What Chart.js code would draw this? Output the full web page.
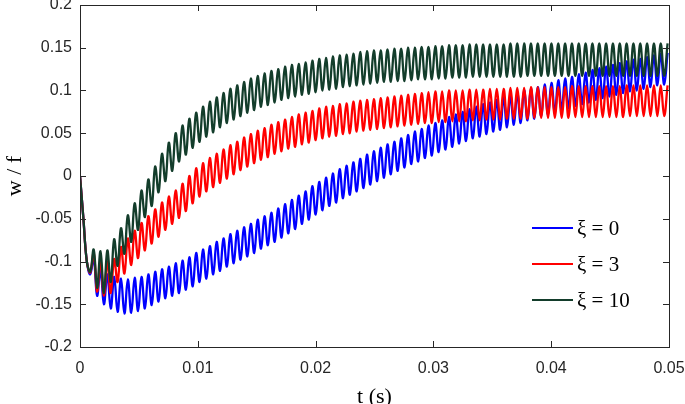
<!DOCTYPE html>
<html>
<head>
<meta charset="utf-8">
<script src="https://cdn.jsdelivr.net/npm/chart.js@4.4.1/dist/chart.umd.min.js"></script>
<style>
  html, body { margin: 0; padding: 0; background: #fff; }
  #wrap { width: 685px; height: 404px; }
</style>
</head>
<body>
<div id="wrap"><canvas id="respChart" width="685" height="404"></canvas></div>
<script>
// time samples (s), one per half period of the oscillation
var times = [
  0, 0.00029, 0.00058, 0.00087, 0.00116, 0.00145, 0.00174, 0.00203, 0.00232, 0.00261,
  0.0029, 0.00319, 0.00348, 0.00377, 0.00406, 0.00435, 0.00464, 0.00493, 0.00522, 0.00551,
  0.0058, 0.00609, 0.00638, 0.00667, 0.00696, 0.00725, 0.00754, 0.00783, 0.00812, 0.00841,
  0.0087, 0.00899, 0.00928, 0.00957, 0.00986, 0.01015, 0.01044, 0.01073, 0.01102, 0.01131,
  0.0116, 0.01189, 0.01218, 0.01247, 0.01276, 0.01305, 0.01334, 0.01363, 0.01392, 0.01421,
  0.0145, 0.01479, 0.01508, 0.01537, 0.01566, 0.01595, 0.01624, 0.01653, 0.01682, 0.01711,
  0.0174, 0.01769, 0.01798, 0.01827, 0.01856, 0.01885, 0.01914, 0.01943, 0.01972, 0.02001,
  0.0203, 0.02059, 0.02088, 0.02117, 0.02146, 0.02175, 0.02204, 0.02233, 0.02262, 0.02291,
  0.0232, 0.02349, 0.02378, 0.02407, 0.02436, 0.02465, 0.02494, 0.02523, 0.02552, 0.02581,
  0.0261, 0.02639, 0.02668, 0.02697, 0.02726, 0.02755, 0.02784, 0.02813, 0.02842, 0.02871,
  0.029, 0.02929, 0.02958, 0.02987, 0.03016, 0.03045, 0.03074, 0.03103, 0.03132, 0.03161,
  0.0319, 0.03219, 0.03248, 0.03277, 0.03306, 0.03335, 0.03364, 0.03393, 0.03422, 0.03451,
  0.0348, 0.03509, 0.03538, 0.03567, 0.03596, 0.03625, 0.03654, 0.03683, 0.03712, 0.03741,
  0.0377, 0.03799, 0.03828, 0.03857, 0.03886, 0.03915, 0.03944, 0.03973, 0.04002, 0.04031,
  0.0406, 0.04089, 0.04118, 0.04147, 0.04176, 0.04205, 0.04234, 0.04263, 0.04292, 0.04321,
  0.0435, 0.04379, 0.04408, 0.04437, 0.04466, 0.04495, 0.04524, 0.04553, 0.04582, 0.04611,
  0.0464, 0.04669, 0.04698, 0.04727, 0.04756, 0.04785, 0.04814, 0.04843, 0.04872, 0.04901,
  0.0493, 0.04959, 0.04988
];

// xi = 0
var wXi0 = [
  0, -0.05, -0.1, -0.115, -0.095, -0.14, -0.11, -0.15, -0.115, -0.155,
  -0.118, -0.159, -0.120, -0.161, -0.121, -0.160, -0.119, -0.158, -0.118, -0.155,
  -0.115, -0.151, -0.112, -0.147, -0.109, -0.143, -0.106, -0.140, -0.102, -0.137,
  -0.099, -0.133, -0.095, -0.129, -0.090, -0.124, -0.086, -0.120, -0.082, -0.115,
  -0.077, -0.111, -0.073, -0.106, -0.068, -0.102, -0.064, -0.098, -0.060, -0.094,
  -0.056, -0.090, -0.051, -0.085, -0.047, -0.081, -0.043, -0.077, -0.038, -0.072,
  -0.033, -0.067, -0.028, -0.062, -0.023, -0.056, -0.018, -0.051, -0.012, -0.045,
  -0.007, -0.040, -0.002, -0.035, 0.003, -0.031, 0.008, -0.026, 0.012, -0.022,
  0.016, -0.018, 0.020, -0.014, 0.025, -0.010, 0.029, -0.006, 0.033, -0.002,
  0.037, 0.002, 0.040, 0.006, 0.044, 0.010, 0.048, 0.014, 0.052, 0.017,
  0.055, 0.021, 0.059, 0.024, 0.062, 0.028, 0.065, 0.031, 0.069, 0.034,
  0.072, 0.038, 0.075, 0.041, 0.078, 0.044, 0.081, 0.046, 0.084, 0.049,
  0.086, 0.052, 0.089, 0.054, 0.092, 0.057, 0.094, 0.060, 0.097, 0.062,
  0.100, 0.065, 0.102, 0.067, 0.104, 0.070, 0.107, 0.072, 0.109, 0.074,
  0.112, 0.077, 0.114, 0.079, 0.116, 0.082, 0.119, 0.084, 0.121, 0.086,
  0.124, 0.089, 0.126, 0.091, 0.128, 0.093, 0.130, 0.095, 0.132, 0.097,
  0.134, 0.099, 0.136, 0.100, 0.137, 0.102, 0.139, 0.104, 0.141, 0.106,
  0.143, 0.107, 0.144
];

// xi = 3
var wXi3 = [
  0, -0.05, -0.1, -0.113, -0.09, -0.135, -0.1, -0.14, -0.1, -0.137,
  -0.097, -0.124, -0.083, -0.114, -0.073, -0.104, -0.064, -0.096, -0.055, -0.087,
  -0.047, -0.079, -0.039, -0.071, -0.031, -0.063, -0.024, -0.056, -0.017, -0.049,
  -0.009, -0.041, 0.000, -0.032, 0.009, -0.024, 0.015, -0.018, 0.021, -0.013,
  0.026, -0.008, 0.031, -0.003, 0.036, 0.002, 0.040, 0.007, 0.045, 0.011,
  0.049, 0.015, 0.053, 0.019, 0.056, 0.022, 0.060, 0.026, 0.063, 0.029,
  0.066, 0.032, 0.069, 0.034, 0.072, 0.037, 0.074, 0.039, 0.076, 0.042,
  0.079, 0.044, 0.081, 0.046, 0.082, 0.047, 0.084, 0.049, 0.085, 0.050,
  0.087, 0.052, 0.088, 0.053, 0.089, 0.054, 0.090, 0.055, 0.091, 0.056,
  0.092, 0.057, 0.093, 0.058, 0.094, 0.059, 0.095, 0.060, 0.096, 0.061,
  0.097, 0.062, 0.098, 0.062, 0.099, 0.063, 0.099, 0.063, 0.100, 0.064,
  0.100, 0.064, 0.100, 0.064, 0.101, 0.065, 0.101, 0.065, 0.101, 0.066,
  0.102, 0.066, 0.102, 0.066, 0.102, 0.067, 0.103, 0.067, 0.103, 0.067,
  0.103, 0.067, 0.104, 0.068, 0.104, 0.068, 0.104, 0.068, 0.104, 0.068,
  0.104, 0.068, 0.104, 0.068, 0.105, 0.069, 0.105, 0.069, 0.105, 0.069,
  0.105, 0.069, 0.105, 0.069, 0.105, 0.069, 0.105, 0.069, 0.105, 0.069,
  0.106, 0.070, 0.106, 0.070, 0.106, 0.070, 0.106, 0.070, 0.106, 0.070,
  0.106, 0.070, 0.106
];

// xi = 10
var wXi10 = [
  0, -0.05, -0.1, -0.112, -0.086, -0.131, -0.088, -0.137, -0.087, -0.124,
  -0.074, -0.105, -0.061, -0.091, -0.046, -0.077, -0.032, -0.063, -0.017, -0.048,
  -0.004, -0.035, 0.011, -0.019, 0.026, -0.006, 0.039, 0.006, 0.050, 0.017,
  0.059, 0.025, 0.067, 0.033, 0.074, 0.040, 0.081, 0.046, 0.087, 0.051,
  0.092, 0.057, 0.097, 0.062, 0.102, 0.066, 0.106, 0.070, 0.110, 0.074,
  0.114, 0.077, 0.117, 0.081, 0.120, 0.083, 0.123, 0.086, 0.125, 0.089,
  0.128, 0.091, 0.130, 0.093, 0.131, 0.095, 0.133, 0.096, 0.135, 0.098,
  0.137, 0.100, 0.138, 0.101, 0.140, 0.102, 0.141, 0.104, 0.142, 0.105,
  0.143, 0.106, 0.145, 0.107, 0.146, 0.108, 0.147, 0.109, 0.147, 0.110,
  0.148, 0.110, 0.149, 0.111, 0.149, 0.111, 0.150, 0.112, 0.150, 0.113,
  0.151, 0.113, 0.151, 0.113, 0.152, 0.114, 0.152, 0.114, 0.153, 0.115,
  0.153, 0.115, 0.153, 0.115, 0.154, 0.116, 0.154, 0.116, 0.154, 0.116,
  0.154, 0.116, 0.154, 0.116, 0.154, 0.116, 0.155, 0.116, 0.155, 0.116,
  0.155, 0.117, 0.155, 0.117, 0.155, 0.117, 0.155, 0.117, 0.155, 0.117,
  0.155, 0.117, 0.155, 0.117, 0.155, 0.117, 0.155, 0.117, 0.155, 0.117,
  0.155, 0.117, 0.155, 0.117, 0.155, 0.117, 0.155, 0.117, 0.155, 0.117,
  0.155, 0.117, 0.155, 0.117, 0.155, 0.117, 0.155, 0.117, 0.155, 0.117,
  0.155, 0.117, 0.155
];

var seriesLabels = ['\u03BE = 0', '\u03BE = 3', '\u03BE = 10'];
var seriesColors = ['#0000ff', '#ff0000', '#133d2b'];
var xTicks = [0, 0.01, 0.02, 0.03, 0.04, 0.05];
var yTicks = [-0.2, -0.15, -0.1, -0.05, 0, 0.05, 0.1, 0.15, 0.2];

var axisColor = '#262626';
var tickFont = { family: "'Liberation Sans', Arial, sans-serif", size: 16 };

function toPoints(ys) {
    return ys.map(function (y, i) { return { x: times[i], y: y }; });
}

function fmt(v) {
    return String(Math.round(v * 100) / 100);
}

// MATLAB style box, inward ticks, axis titles and legend
var boxPlugin = {
    id: 'boxPlugin',
    afterDatasetsDraw: function (chart) {
        var ctx = chart.ctx;
        var a = chart.chartArea;
        var xs = chart.scales.x, ys = chart.scales.y;
        var tl = 6;
        ctx.save();
        ctx.strokeStyle = axisColor;
        ctx.lineWidth = 1;
        ctx.beginPath();
        xTicks.forEach(function (v) {
            var px = Math.round(xs.getPixelForValue(v)) + 0.5;
            ctx.moveTo(px, a.bottom); ctx.lineTo(px, a.bottom - tl);
            ctx.moveTo(px, a.top); ctx.lineTo(px, a.top + tl);
        });
        yTicks.forEach(function (v) {
            var py = Math.round(ys.getPixelForValue(v)) + 0.5;
            ctx.moveTo(a.left, py); ctx.lineTo(a.left + tl, py);
            ctx.moveTo(a.right, py); ctx.lineTo(a.right - tl, py);
        });
        ctx.stroke();
        ctx.strokeRect(Math.round(a.left) + 0.5, Math.round(a.top) + 0.5,
            Math.round(a.right - a.left), Math.round(a.bottom - a.top));

        // axis titles
        ctx.fillStyle = '#000';
        ctx.font = "22px 'Liberation Serif', 'Times New Roman', serif";
        ctx.textAlign = 'center';
        ctx.textBaseline = 'alphabetic';
        ctx.fillText('t (s)', (a.left + a.right) / 2, a.bottom + 56);
        ctx.save();
        ctx.translate(21, (a.top + a.bottom) / 2);
        ctx.rotate(-Math.PI / 2);
        ctx.fillText('w / f', 0, 0);
        ctx.restore();

        // legend inside the axes, lower right
        ctx.font = "21px 'Liberation Serif', 'Times New Roman', serif";
        ctx.textAlign = 'left';
        ctx.textBaseline = 'middle';
        seriesLabels.forEach(function (lab, i) {
            var yy = a.bottom - 119 + i * 36;
            ctx.strokeStyle = seriesColors[i];
            ctx.lineWidth = 2;
            ctx.beginPath();
            ctx.moveTo(a.right - 137, yy);
            ctx.lineTo(a.right - 96, yy);
            ctx.stroke();
            ctx.fillStyle = '#000';
            ctx.fillText(lab, a.right - 92, yy + 1);
        });
        ctx.restore();
    }
};

var ctx = document.getElementById('respChart').getContext('2d');
var respChart = new Chart(ctx, {
    type: 'line',
    data: {
        datasets: [
            { label: seriesLabels[0], data: toPoints(wXi0), borderColor: seriesColors[0], order: 2 },
            { label: seriesLabels[1], data: toPoints(wXi3), borderColor: seriesColors[1], order: 1 },
            { label: seriesLabels[2], data: toPoints(wXi10), borderColor: seriesColors[2], order: 0 }
        ]
    },
    options: {
        responsive: false,
        animation: false,
        devicePixelRatio: 1,
        layout: { padding: { top: 5, right: 16, left: 0, bottom: 0 } },
        elements: {
            line: { borderWidth: 2.3, tension: 0.4, fill: false },
            point: { radius: 0 }
        },
        plugins: {
            legend: { display: false },
            tooltip: { enabled: false }
        },
        scales: {
            x: {
                type: 'linear',
                min: 0, max: 0.05,
                grid: { display: false, drawTicks: false },
                border: { display: false },
                ticks: {
                    stepSize: 0.01, autoSkip: false, maxRotation: 0,
                    padding: 12, color: axisColor, font: tickFont,
                    callback: fmt
                },
                afterFit: function (s) { s.height = 57; s.paddingLeft = 0; s.paddingRight = 0; }
            },
            y: {
                min: -0.2, max: 0.2,
                grid: { display: false, drawTicks: false },
                border: { display: false },
                ticks: {
                    stepSize: 0.05, autoSkip: false,
                    padding: 8, color: axisColor, font: tickFont,
                    callback: fmt
                },
                afterFit: function (s) { s.width = 80; s.paddingTop = 0; s.paddingBottom = 0; }
            }
        }
    },
    plugins: [boxPlugin]
});
</script>
</body>
</html>
